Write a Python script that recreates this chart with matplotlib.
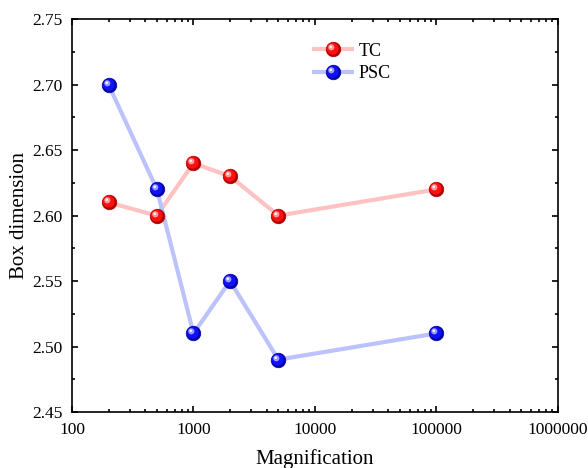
import numpy as np
import matplotlib
matplotlib.use("Agg")
import matplotlib.pyplot as plt
from matplotlib.path import Path
from matplotlib.ticker import LogLocator, NullFormatter, FuncFormatter, MultipleLocator
from matplotlib.legend_handler import HandlerTuple

# Box dimension at each magnification
magnification = [200, 500, 1000, 2000, 5000, 100000]
tc_dim = [2.61, 2.60, 2.64, 2.63, 2.60, 2.62]
psc_dim = [2.70, 2.62, 2.51, 2.55, 2.49, 2.51]

plt.rcParams['font.family'] = ['Liberation Serif', 'DejaVu Serif']


def spot(cx, cy, r):
    # off-centre disc; the extra (1, 0) vertex keeps the marker scale tied to a unit circle
    circ = Path.circle((cx, cy), r)
    verts = np.vstack([[[1.0, 0.0]], circ.vertices])
    codes = np.concatenate([[Path.MOVETO], circ.codes])
    return Path(verts, codes)


def ball_series(ax, x, y, line_color, dark, mid, light, label, ms=10.5):
    ln, = ax.plot(x, y, color=line_color, lw=3, zorder=2, solid_capstyle='butt')
    layers = [ax.plot(x, y, ls='none', marker='o', ms=ms, mfc=dark, mec=dark, mew=0.5, zorder=3)[0]]
    for (cx, cy, r, c, z) in [(-0.12, 0.12, 0.82, mid, 4),
                              (-0.3, 0.3, 0.42, light, 5),
                              (-0.38, 0.38, 0.17, 'white', 6)]:
        layers.append(ax.plot(x, y, ls='none', marker=spot(cx, cy, r), ms=ms,
                              mfc=c, mec='none', mew=0, zorder=z)[0])
    return (ln, *layers), label


fig = plt.figure(figsize=(5.88, 4.68), dpi=100)
ax = fig.add_axes([0.1224, 0.1197, 0.8265, 0.8393])

h_tc = ball_series(ax, magnification, tc_dim, '#ffc2c2', '#b00000', '#ff1010', '#ff9a9a', 'TC')
h_psc = ball_series(ax, magnification, psc_dim, '#bcc2fb', '#0000a8', '#1010ff', '#9a9aff', 'PSC')

ax.set_xscale('log')
ax.set_xlim(100, 1e6)
ax.set_ylim(2.45, 2.75)
ax.set_xticks([100, 1000, 10000, 100000, 1000000])
ax.xaxis.set_major_formatter(FuncFormatter(lambda v, p: f'{int(round(v))}'))
ax.xaxis.set_minor_locator(LogLocator(base=10, subs=np.arange(2, 10)))
ax.xaxis.set_minor_formatter(NullFormatter())
ax.yaxis.set_major_locator(MultipleLocator(0.05))
ax.yaxis.set_minor_locator(MultipleLocator(0.025))
ax.yaxis.set_major_formatter(FuncFormatter(lambda v, p: f'{v:.2f}'))

ax.tick_params(which='both', direction='in', top=True, right=True, width=1.2, labelsize=12.5)
ax.tick_params(which='major', length=4.5)
ax.tick_params(which='minor', length=2.5)
ax.tick_params(axis='x', pad=7)
ax.tick_params(axis='y', pad=7)
for sp in ax.spines.values():
    sp.set_linewidth(1.2)

ax.set_xlabel('Magnification', fontsize=15, labelpad=8)
ax.set_ylabel('Box dimension', fontsize=15, labelpad=2)

ax.legend([h_tc[0], h_psc[0]], [h_tc[1], h_psc[1]],
          handler_map={tuple: HandlerTuple(ndivide=1, pad=0)},
          loc='upper left', bbox_to_anchor=(0.494, 0.94), frameon=False,
          fontsize=13, handlelength=2.3, handletextpad=0.3, labelspacing=0.3,
          borderpad=0, borderaxespad=0)

fig.savefig('out.png', dpi=100)
